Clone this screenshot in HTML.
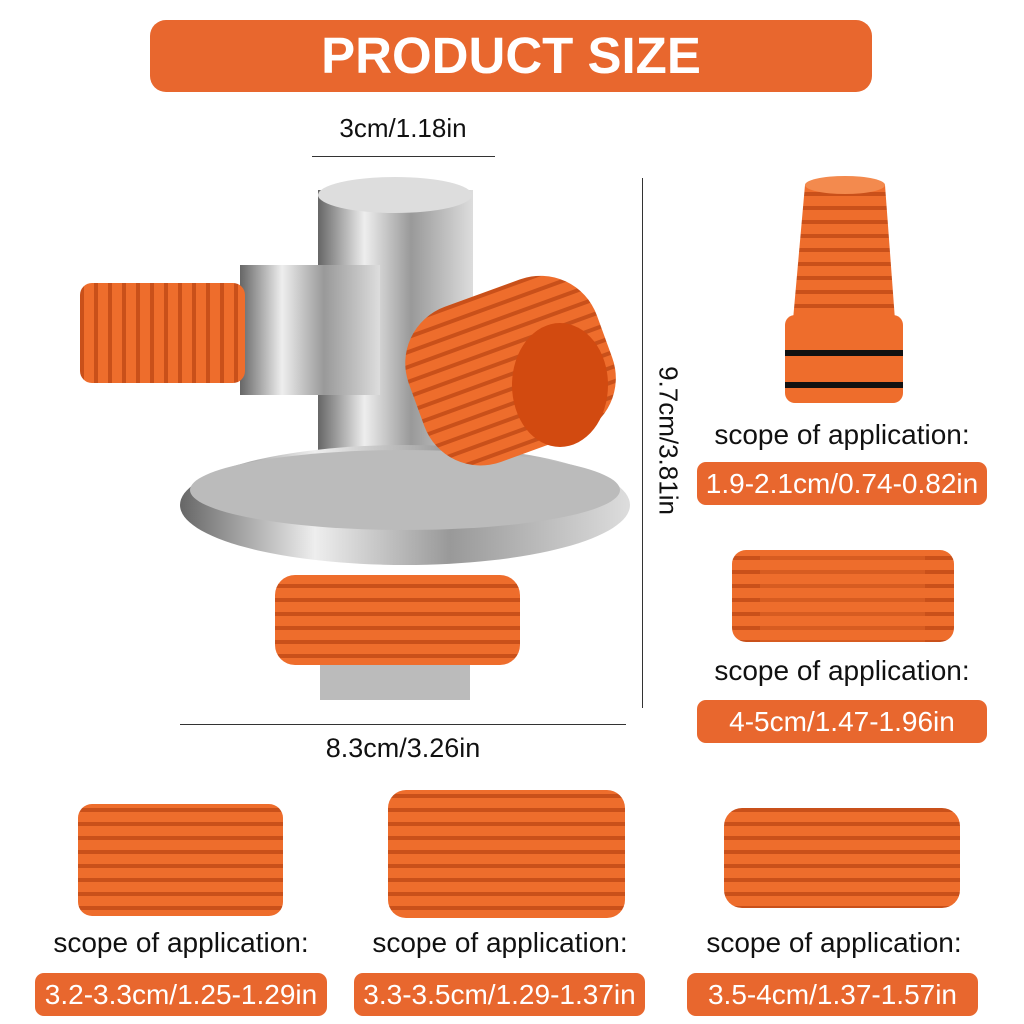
<!DOCTYPE html>
<html><head><meta charset="utf-8"><style>
body{margin:0;width:1024px;height:1024px;background:#fff;position:relative;overflow:hidden;font-family:"Liberation Sans",sans-serif}
.a{position:absolute}
.t{position:absolute;font-size:28px;color:#111;text-align:center;white-space:nowrap}
.b{position:absolute;background:#e8672e;color:#fff;border-radius:9px;font-size:28px;text-align:center;white-space:nowrap}
</style></head><body>
<div class="a" style="left:150px;top:20px;width:722px;height:72px;background:#e8672e;border-radius:16px;color:#fff;font-weight:bold;font-size:51px;line-height:72px;text-align:center">PRODUCT SIZE</div>

<div class="t" style="left:253px;top:113px;width:300px;font-size:26px">3cm/1.18in</div>
<div class="a" style="left:312px;top:156px;width:183px;height:1px;background:#333"></div>
<div class="a" style="left:642px;top:178px;width:1px;height:530px;background:#333"></div>
<div class="t" style="left:518px;top:425px;width:300px;font-size:26px;transform:rotate(90deg)">9.7cm/3.81in</div>
<div class="a" style="left:180px;top:724px;width:446px;height:1px;background:#333"></div>
<div class="t" style="left:240px;top:733px;width:326px;font-size:27px">8.3cm/3.26in</div>

<svg class="a" style="left:0;top:0" width="1024" height="1024">
<defs>
<linearGradient id="ch" x1="0" x2="1"><stop offset="0" stop-color="#666"/><stop offset=".3" stop-color="#eee"/><stop offset=".6" stop-color="#999"/><stop offset="1" stop-color="#ddd"/></linearGradient>
<pattern id="rib" width="10" height="14" patternUnits="userSpaceOnUse"><rect width="10" height="14" fill="#ee6d2c"/><rect y="10" width="10" height="4" fill="#c9501a"/></pattern>
<pattern id="ribv" width="14" height="10" patternUnits="userSpaceOnUse"><rect width="14" height="10" fill="#ee6d2c"/><rect x="10" width="4" height="10" fill="#c9501a"/></pattern>
</defs>
<rect x="318" y="190" width="155" height="280" fill="url(#ch)"/>
<ellipse cx="395" cy="195" rx="77" ry="18" fill="#ddd"/>
<rect x="240" y="265" width="140" height="130" fill="url(#ch)"/>
<rect x="80" y="283" width="165" height="100" rx="12" fill="url(#ribv)"/>
<ellipse cx="405" cy="505" rx="225" ry="60" fill="url(#ch)"/>
<ellipse cx="405" cy="490" rx="215" ry="40" fill="#bbb"/>
<rect x="275" y="575" width="245" height="90" rx="20" fill="url(#rib)"/>
<rect x="320" y="665" width="150" height="35" fill="#bbb"/>
<g transform="rotate(-20 505 370)"><rect x="410" y="290" width="200" height="165" rx="60" fill="url(#rib)"/></g>
<ellipse cx="560" cy="385" rx="48" ry="62" fill="#d24a10"/>
<path d="M805 185 L885 185 L895 320 L793 320 Z" fill="url(#rib)"/>
<ellipse cx="845" cy="185" rx="40" ry="9" fill="#f38a4e"/>
<rect x="785" y="315" width="118" height="88" rx="10" fill="#ee6d2c"/>
<rect x="785" y="350" width="118" height="6" fill="#111"/>
<rect x="785" y="382" width="118" height="6" fill="#111"/>
<rect x="732" y="550" width="222" height="92" rx="14" fill="url(#rib)"/>
<rect x="760" y="550" width="165" height="92" fill="#ee6d2c" opacity=".4"/>
<rect x="78" y="804" width="205" height="112" rx="14" fill="url(#rib)"/>
<rect x="388" y="790" width="237" height="128" rx="18" fill="url(#rib)"/>
<rect x="724" y="808" width="236" height="100" rx="18" fill="url(#rib)"/>
</svg>

<div class="t" style="left:667px;top:419px;width:350px">scope of application:</div>
<div class="b" style="left:697px;top:462px;width:290px;height:43px;line-height:43px">1.9-2.1cm/0.74-0.82in</div>
<div class="t" style="left:667px;top:655px;width:350px">scope of application:</div>
<div class="b" style="left:697px;top:700px;width:290px;height:43px;line-height:43px">4-5cm/1.47-1.96in</div>

<div class="t" style="left:6px;top:927px;width:350px">scope of application:</div>
<div class="b" style="left:35px;top:973px;width:292px;height:43px;line-height:43px">3.2-3.3cm/1.25-1.29in</div>
<div class="t" style="left:325px;top:927px;width:350px">scope of application:</div>
<div class="b" style="left:354px;top:973px;width:291px;height:43px;line-height:43px">3.3-3.5cm/1.29-1.37in</div>
<div class="t" style="left:659px;top:927px;width:350px">scope of application:</div>
<div class="b" style="left:687px;top:973px;width:291px;height:43px;line-height:43px">3.5-4cm/1.37-1.57in</div>
</body></html>
